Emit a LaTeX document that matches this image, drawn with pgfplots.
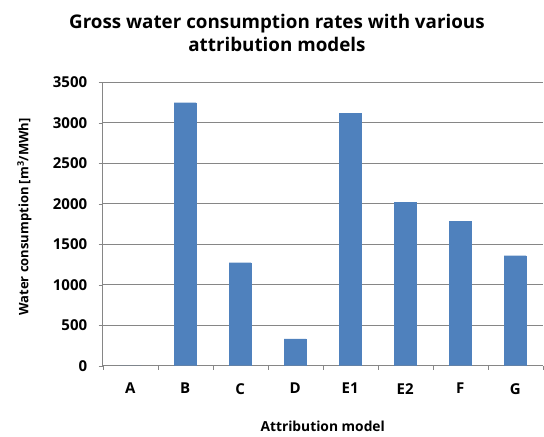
\documentclass[border=0pt]{standalone}
\usepackage{fontspec}
\setmainfont{Open Sans}
\usepackage{pgfplots}
\pgfplotsset{compat=1.18}
\definecolor{barblue}{HTML}{4F81BD}
\definecolor{axgray}{HTML}{868686}
\begin{document}
\begin{tikzpicture}
\path[use as bounding box] (-102.7bp,-71.3bp) rectangle (441.3bp,365.7bp);
\begin{axis}[
  scale only axis,
  width=440bp, height=283.4bp,
  at={(0,0)}, anchor=south west,
  ybar, bar width=22bp,
  xmin=-0.5, xmax=7.5,
  ymin=0, ymax=3500,
  ytick={0,500,...,3500},
  xtick={0,...,7},
  xticklabels={A,B,C,D,E1,E2,F,G},
  minor xtick={-0.5,0.5,...,7.5},
  major x tick style={draw=none},
  minor x tick style={axgray},
  minor tick length=4bp,
  major tick length=4bp,
  tick align=outside,
  y tick style={axgray},
  axis x line*=bottom, axis y line*=left,
  axis line style={axgray, line width=0.8pt},
  ymajorgrids, grid style={axgray, line width=0.6pt},
  /pgf/number format/assume math mode=true,
  /pgf/number format/set thousands separator={},
  ticklabel style={font=\fontsize{15bp}{17bp}\selectfont\bfseries},
  yticklabel style={xshift=-8bp},
  xticklabel style={yshift=-10bp},
  xlabel={Attribution model},
  ylabel={Water consumption [m\textsuperscript{3}/MWh]},
  xlabel style={font=\fontsize{13.8bp}{16bp}\selectfont\bfseries, at={(rel axis cs:0.5,0)}, anchor=center, yshift=-61bp},
  ylabel style={font=\fontsize{13bp}{16bp}\selectfont\bfseries, at={(axis description cs:-0.178,0.525)}, anchor=center},
  title={Gross water consumption rates with various\\attribution models},
  title style={font=\fontsize{18.8bp}{23bp}\selectfont\bfseries, align=center, at={(rel axis cs:0.396,1.152)}, anchor=center},
]
\addplot[fill=barblue, draw=barblue] coordinates {(0,0) (1,3248) (2,1272) (3,330) (4,3117) (5,2018) (6,1787) (7,1358)};
\end{axis}
\end{tikzpicture}
\end{document}
